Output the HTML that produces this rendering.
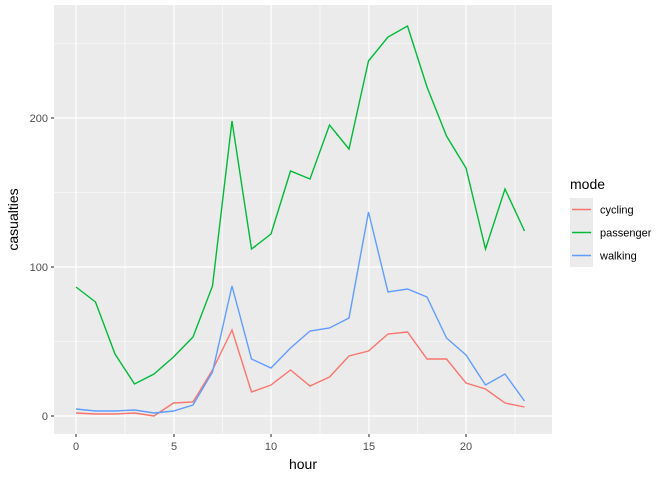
<!DOCTYPE html><html><head><style>body{margin:0;background:#fff}svg{display:block}text{font-family:"Liberation Sans",sans-serif}</style></head><body>
<svg width="672" height="480" xmlns="http://www.w3.org/2000/svg">
<rect x="54" y="5" width="498" height="429" fill="#EBEBEB"/>
<g stroke="#fff" stroke-width="0.6">
<line x1="54" x2="552" y1="341.5" y2="341.5"/><line x1="54" x2="552" y1="192.5" y2="192.5"/><line x1="54" x2="552" y1="43.5" y2="43.5"/>
<line y1="5" y2="434" x1="125" x2="125"/><line y1="5" y2="434" x1="222.5" x2="222.5"/><line y1="5" y2="434" x1="320" x2="320"/><line y1="5" y2="434" x1="417.5" x2="417.5"/><line y1="5" y2="434" x1="515" x2="515"/>
</g>
<g stroke="#fff" stroke-width="1.2">
<line x1="54" x2="552" y1="416" y2="416"/><line x1="54" x2="552" y1="267" y2="267"/><line x1="54" x2="552" y1="118" y2="118"/>
<line y1="5" y2="434" x1="76" x2="76"/><line y1="5" y2="434" x1="174" x2="174"/><line y1="5" y2="434" x1="271" x2="271"/><line y1="5" y2="434" x1="369" x2="369"/><line y1="5" y2="434" x1="466" x2="466"/>
</g>
<g fill="none" stroke-width="1.4">
<polyline stroke="#F8766D" points="76,413 95.5,414 115,414 134.5,413 154,416 173.5,403 193,402 212.5,370 232,330 251.5,392 271,385 290.5,370 310,386 329.5,377 349,356 368.5,351 388,334 407.5,332 427,359 446.5,359 466,383 485.5,389 505,403 524.5,407"/>
<polyline stroke="#00BA38" points="76,287 95.5,302 115,354 134.5,384 154,374 173.5,357 193,337 212.5,286 232,121 251.5,249 271,234 290.5,171 310,179 329.5,125 349,149 368.5,61 388,37 407.5,26 427,87 446.5,136 466,168 485.5,249 505,189 524.5,231"/>
<polyline stroke="#619CFF" points="76,409 95.5,411 115,411 134.5,410 154,413 173.5,411 193,405 212.5,372 232,286 251.5,359 271,368 290.5,348 310,331 329.5,328 349,318 368.5,212 388,292 407.5,289 427,297 446.5,338 466,355 485.5,385 505,374 524.5,401"/>
</g>
<g stroke="#333" stroke-width="1.1">
<line x1="51" x2="54" y1="416" y2="416"/><line x1="51" x2="54" y1="267" y2="267"/><line x1="51" x2="54" y1="118" y2="118"/>
<line y1="434" y2="437" x1="76" x2="76"/><line y1="434" y2="437" x1="174" x2="174"/><line y1="434" y2="437" x1="271" x2="271"/><line y1="434" y2="437" x1="369" x2="369"/><line y1="434" y2="437" x1="466" x2="466"/>
</g>
<g font-size="11" fill="#4D4D4D" text-anchor="end">
<text x="48" y="420">0</text><text x="48" y="271">100</text><text x="48" y="122">200</text>
</g>
<g font-size="11" fill="#4D4D4D" text-anchor="middle">
<text x="76" y="450">0</text><text x="174" y="450">5</text><text x="271" y="450">10</text><text x="369" y="450">15</text><text x="466" y="450">20</text>
</g>
<text x="303" y="469" font-size="14" text-anchor="middle">hour</text>
<text transform="translate(18,219.5) rotate(-90)" font-size="14" text-anchor="middle">casualties</text>
<text x="570" y="189" font-size="14">mode</text>
<rect x="570" y="198" width="23" height="69" fill="#EBEBEB"/>
<line x1="572" x2="591" y1="209.5" y2="209.5" stroke="#F8766D" stroke-width="1.4"/>
<line x1="572" x2="591" y1="232.5" y2="232.5" stroke="#00BA38" stroke-width="1.4"/>
<line x1="572" x2="591" y1="255.5" y2="255.5" stroke="#619CFF" stroke-width="1.4"/>
<g font-size="11" fill="#000"><text x="600" y="213.5">cycling</text><text x="600" y="236.5">passenger</text><text x="600" y="259.5">walking</text></g>
</svg></body></html>
